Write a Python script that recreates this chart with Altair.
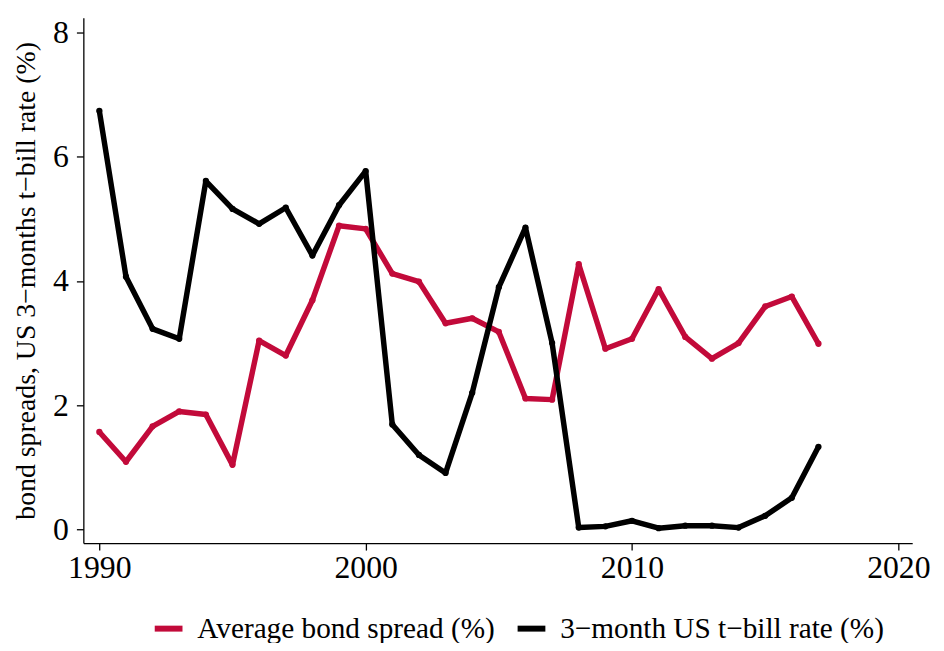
import altair as alt
import pandas as pd

years = list(range(1990, 2018))
bond_spread = [1.57, 1.09, 1.66, 1.90, 1.85, 1.04, 3.04, 2.80, 3.69, 4.89,
               4.84, 4.12, 3.99, 3.32, 3.40, 3.18, 2.11, 2.09, 4.27, 2.91,
               3.07, 3.87, 3.10, 2.75, 3.00, 3.59, 3.75, 2.99]
tbill = [6.74, 4.07, 3.23, 3.07, 5.61, 5.16, 4.92, 5.18, 4.41, 5.22,
         5.77, 1.69, 1.20, 0.91, 2.20, 3.90, 4.86, 3.00, 0.03, 0.05,
         0.14, 0.02, 0.06, 0.06, 0.03, 0.22, 0.51, 1.33]
s1 = "Average bond spread (%)"
s2 = "3\u2212month US t\u2212bill rate (%)"
x_ticks = [1990, 2000, 2010, 2020]
y_ticks = [0, 2, 4, 6, 8]

df = pd.DataFrame({
    "year": years * 2,
    "value": bond_spread + tbill,
    "series": [s1] * len(years) + [s2] * len(years),
})

FONT = "Liberation Serif"
RED = "#C20A3A"

x = alt.X("year:Q", scale=alt.Scale(domain=[1989.4, 2020.52], nice=False, zero=False),
          axis=alt.Axis(values=x_ticks, format="d", title=None, grid=False,
                        labelFontSize=32, labelPadding=3, tickSize=7))
y = alt.Y("value:Q", scale=alt.Scale(domain=[-0.22, 8.24], nice=False, zero=False),
          axis=alt.Axis(values=y_ticks, title="bond spreads, US 3\u2212months t\u2212bill rate (%)",
                        grid=False, labelFontSize=32, labelPadding=8, tickSize=7,
                        titleFontSize=28, titleFontWeight="normal", titlePadding=12,
                        titleLimit=1000))
color = alt.Color("series:N",
                  scale=alt.Scale(domain=[s1, s2], range=[RED, "black"]),
                  legend=alt.Legend(title=None, orient="none", direction="horizontal",
                                    legendX=69, legendY=599, columns=2,
                                    symbolType="stroke", symbolSize=784,
                                    symbolStrokeWidth=6, labelFontSize=29.5,
                                    labelOffset=12, columnPadding=10, padding=0,
                                    labelLimit=500))

base = alt.Chart(df).encode(x=x, y=y, color=color)

layers = []
for s in [s1, s2]:
    sub = base.transform_filter(alt.datum.series == s)
    layers.append(sub.mark_line(strokeWidth=5.5, strokeJoin="round"))
    layers.append(sub.mark_point(filled=True, size=40, opacity=1))

chart = alt.layer(*layers).properties(
    width=836, height=530,
    autosize=alt.AutoSizeParams(type="none"),
    padding={"left": 76, "top": 7, "right": 24, "bottom": 98},
).configure_view(stroke=None).configure_axis(
    domainColor="black", domainWidth=1.3, tickColor="black", tickWidth=1.3,
    labelColor="black", titleColor="black", labelFont=FONT, titleFont=FONT,
).configure_legend(labelFont=FONT, labelColor="black")

chart.save("out.html", embed_options={"renderer": "svg", "actions": False})
